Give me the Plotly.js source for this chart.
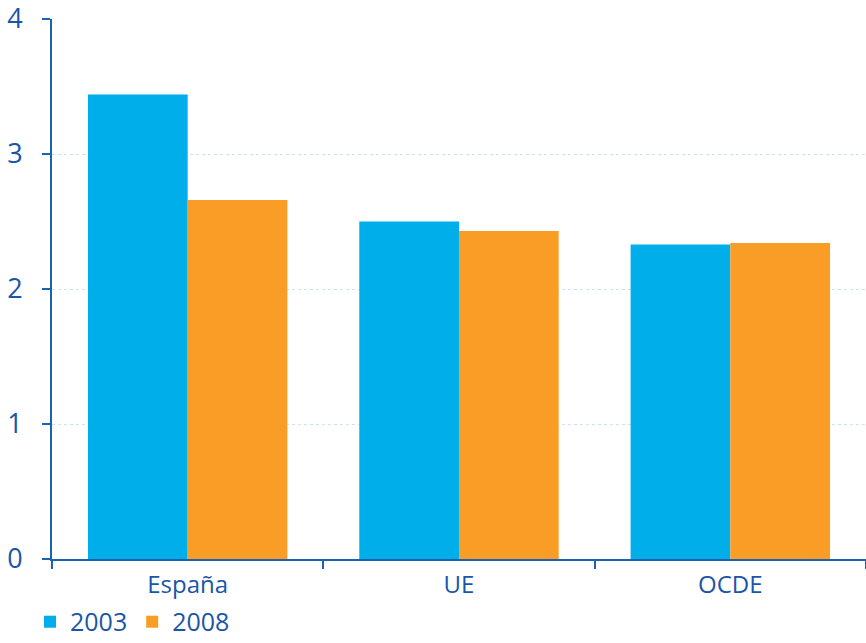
<!DOCTYPE html>
<html><head><meta charset="utf-8">
<script src="https://cdn.plot.ly/plotly-3.0.1.min.js"></script>
<style>html,body{margin:0;padding:0;background:#fff}#c{width:866px;height:643px}</style>
</head><body><div id="c"></div>
<script>
var categories = ["España", "UE", "OCDE"];
var values2003 = [3.44, 2.50, 2.33];
var values2008 = [2.66, 2.43, 2.34];
var seriesNames = ["2003", "2008"];
var yTicks = [0, 1, 2, 3, 4];

var axisColor = "#1a63b3";
var textColor = "#1a56a6";
var font = "Open Sans, Noto Sans, sans-serif";

var data = [
  {type: "bar", x: categories, y: values2003, name: seriesNames[0],
   marker: {color: "#00aeea", line: {width: 0}}},
  {type: "bar", x: categories, y: values2008, name: seriesNames[1],
   marker: {color: "#f99d27", line: {width: 0}}}
];

var layout = {
  width: 866, height: 643,
  margin: {l: 52, r: 0, t: 19, b: 84, autoexpand: false},
  paper_bgcolor: "#fff", plot_bgcolor: "#fff",
  barmode: "group", bargap: 0.265, bargroupgap: 0,
  font: {family: font, color: textColor},
  showlegend: true,
  legend: {orientation: "h", x: -0.027, xanchor: "left",
           y: -0.074, yanchor: "top",
           font: {size: 25, color: textColor}, tracegroupgap: 0,
           traceorder: "normal", itemclick: false},
  xaxis: {
    type: "category", showline: true, linecolor: axisColor, linewidth: 2,
    ticks: "outside", tickson: "boundaries", ticklen: 8, tickwidth: 2, tickcolor: axisColor,
    tickfont: {size: 24, color: textColor}, showgrid: false, zeroline: false,
    ticklabelstandoff: 3, ticklabeloverflow: "allow"
  },
  yaxis: {
    range: [0, 4], tickvals: yTicks, showline: true, linecolor: axisColor, linewidth: 2,
    ticks: "outside", ticklen: 8, tickwidth: 2, tickcolor: axisColor,
    tickfont: {size: 27, color: textColor}, ticklabelstandoff: 14, ticklabeloverflow: "allow",
    showgrid: true, gridcolor: "#c8e4f4", gridwidth: 1, griddash: "dot",
    zeroline: false
  }
};

Plotly.newPlot("c", data, layout, {displayModeBar: false, staticPlot: true});
</script></body></html>
